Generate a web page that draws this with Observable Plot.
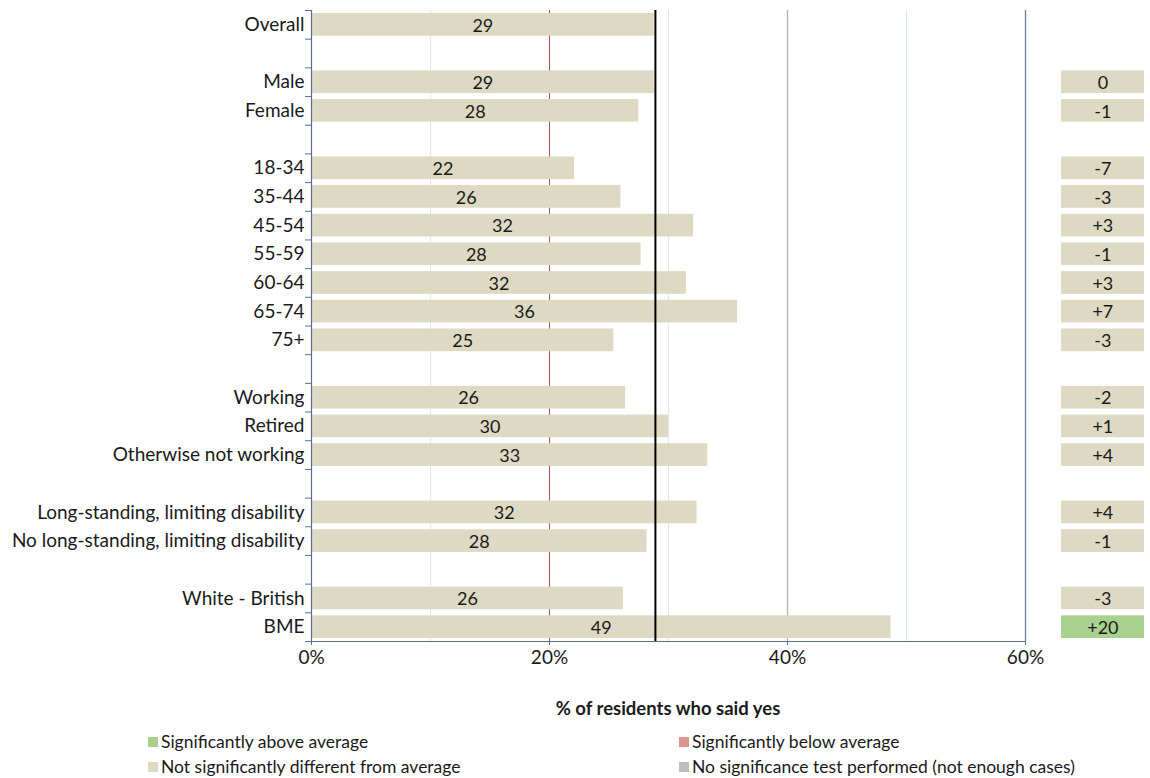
<!DOCTYPE html>
<html>
<head>
<meta charset="utf-8">
<script src="https://cdn.jsdelivr.net/npm/d3@7"></script>
<script src="https://cdn.jsdelivr.net/npm/@observablehq/plot@0.6"></script>
<style>
  html, body { margin: 0; padding: 0; background: #fff; }
  body { width: 1150px; height: 778px; overflow: hidden; font-family: Lato, "Open Sans", sans-serif; color: #1a1a1a; }
  #chart svg { display: block; }
  .xtitle { text-align: center; font-weight: bold; font-size: 18.5px; margin-top: 17px; padding-left: 186px; height: 22px; line-height: 22px; }
  .legend { position: relative; height: 60px; font-size: 17.5px; }
  .item { position: absolute; display: flex; align-items: center; height: 22px; line-height: 22px; }
  .sw { width: 10px; height: 10px; margin-right: 3px; }
</style>
</head>
<body>
<div id="chart"></div>
<div class="xtitle">% of residents who said yes</div>
<div class="legend" id="legend"></div>
<script>
// ---- data ----
const groups = [
  ["Overall"],
  ["Male", "Female"],
  ["18-34", "35-44", "45-54", "55-59", "60-64", "65-74", "75+"],
  ["Working", "Retired", "Otherwise not working"],
  ["Long-standing, limiting disability", "No long-standing, limiting disability"],
  ["White - British", "BME"]
];
const shares = [28.8, 28.8, 27.5, 22.1, 26.0, 32.1, 27.7, 31.5, 35.8, 25.4, 26.4, 30.0, 33.3, 32.4, 28.2, 26.2, 48.7];
const diffs = [null, 0, -1, -7, -3, 3, -1, 3, 7, -3, -2, 1, 4, 4, -1, -3, 20];
const significance = ["", "none", "none", "none", "none", "none", "none", "none", "none", "none", "none", "none", "none", "none", "none", "none", "above"];
const overallAverage = 28.9;
const xTicks = [0, 20, 40, 60];
const lightGrid = [10, 30, 50];
const legendLabels = {
  above: "Significantly above average",
  below: "Significantly below average",
  none: "Not significantly different from average",
  untested: "No significance test performed (not enough cases)"
};
const sigColors = { above: "#a9d18e", below: "#d99694", none: "#ddd9c3", untested: "#bfbfbf" };

// ---- build rows (group gaps become empty slots) ----
const rows = [];
let slot = 0, k = 0;
groups.forEach((g, gi) => {
  if (gi > 0) slot++;
  g.forEach(name => {
    rows.push({ name, slot, share: shares[k], diff: diffs[k], sig: significance[k] });
    slot++; k++;
  });
});
const nSlots = slot;
const bounds = d3.range(-0.5, nSlots, 1);
const nameBySlot = new Map(rows.map(d => [d.slot, d.name]));
const axisColor = "#56708e";
const half = 0.395;

const chart = Plot.plot({
  width: 1150,
  height: 680,
  marginLeft: 311,
  marginRight: 125,
  marginTop: 10,
  marginBottom: 39,
  style: { fontFamily: "Lato, 'Open Sans', sans-serif", fontSize: "19px", color: "#1a1a1a", background: "#fff" },
  x: { domain: [0, 60], label: null },
  y: { domain: [nSlots - 0.5, -0.5], label: null },
  marks: [
    Plot.ruleX(lightGrid, { y1: -0.5, y2: nSlots - 0.5, stroke: "#dfe7f0", strokeWidth: 1 }),
    Plot.ruleX([20], { y1: -0.5, y2: nSlots - 0.5, stroke: "#a4554f", strokeWidth: 1 }),
    Plot.ruleX([40], { y1: -0.5, y2: nSlots - 0.5, stroke: "#b3b3b3", strokeWidth: 1.3 }),
    Plot.ruleX([60], { y1: -0.5, y2: nSlots - 0.5, stroke: "#6a7f9e", strokeWidth: 1.3 }),
    Plot.rectX(rows, { x1: () => 0, x2: "share", y1: d => d.slot - half, y2: d => d.slot + half, fill: "#ddd9c3" }),
    Plot.ruleX([overallAverage], { y1: -0.5, y2: nSlots - 0.5, stroke: "#000", strokeWidth: 2 }),
    Plot.text(rows, { x: d => d.share / 2, y: "slot", text: d => String(Math.round(d.share)), fill: "#1a1a1a", fontSize: 18, dy: 1 }),
    Plot.ruleX([0], { y1: -0.5, y2: nSlots - 0.5, stroke: axisColor, strokeWidth: 1.2 }),
    Plot.ruleY([nSlots - 0.5], { x1: 0, x2: 60, stroke: axisColor, strokeWidth: 1.2 }),
    Plot.axisY(bounds, { tickSize: 6, tickFormat: () => "", stroke: axisColor, label: null }),
    Plot.axisY(rows.map(d => d.slot), { tickSize: 0, tickPadding: 7, tickFormat: i => nameBySlot.get(i), fontSize: 19, fill: "#1a1a1a", label: null }),
    Plot.axisX(xTicks, { tickSize: 4, tickPadding: 5, tickFormat: d => d + "%", stroke: axisColor, fill: "#1a1a1a", fontSize: 19, label: null }),
    Plot.rect(rows.filter(d => d.diff != null), { x1: () => 63.03, x2: () => 70, y1: d => d.slot - half, y2: d => d.slot + half, fill: d => sigColors[d.sig] }),
    Plot.text(rows.filter(d => d.diff != null), { x: () => 66.5, y: "slot", text: d => d.diff > 0 ? "+" + d.diff : String(d.diff), fill: "#1a1a1a", fontSize: 18, dy: 1 })
  ]
});
document.getElementById("chart").appendChild(chart);

// ---- legend ----
const legendPos = [
  { key: "above", left: 148, top: 12 },
  { key: "below", left: 679, top: 12 },
  { key: "none", left: 148, top: 37 },
  { key: "untested", left: 679, top: 37 }
];
const legend = document.getElementById("legend");
legendPos.forEach(p => {
  const it = document.createElement("div");
  it.className = "item";
  it.style.left = p.left + "px";
  it.style.top = p.top + "px";
  const sw = document.createElement("span");
  sw.className = "sw";
  sw.style.background = sigColors[p.key];
  const tx = document.createElement("span");
  tx.textContent = legendLabels[p.key];
  it.appendChild(sw); it.appendChild(tx);
  legend.appendChild(it);
});
</script>
</body>
</html>
